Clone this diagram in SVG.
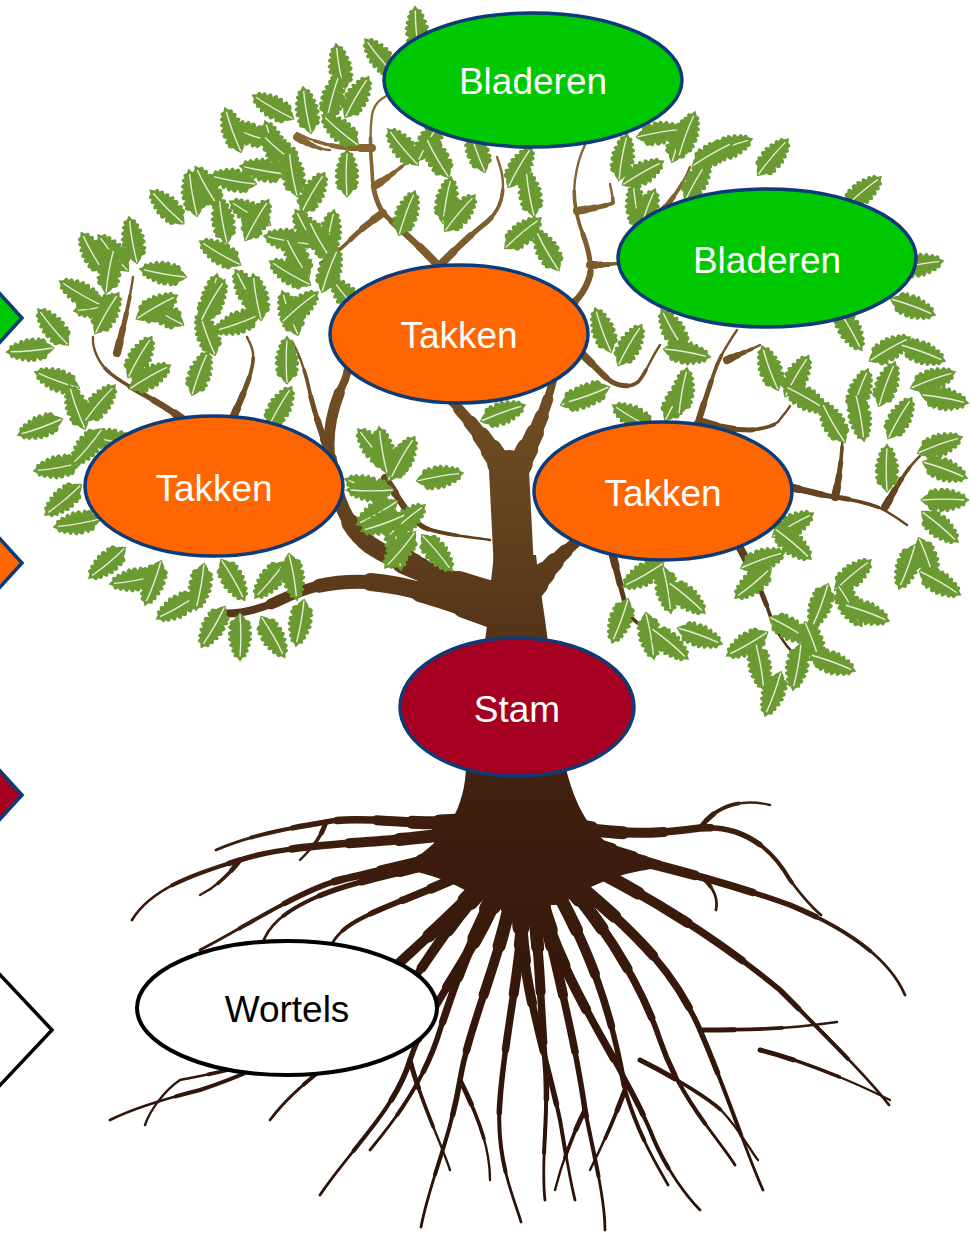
<svg xmlns="http://www.w3.org/2000/svg" width="971" height="1233" viewBox="0 0 971 1233">
<style>
.w{fill:none;stroke:url(#wood);stroke-linecap:round;stroke-linejoin:round}
.node ellipse{stroke:#0d3b78;stroke-width:3.5}
.lbl{font-family:"Liberation Sans",Arial,sans-serif;font-size:37px;fill:#ffffff;text-anchor:middle}
.dia{stroke:#0d3b78;stroke-width:3.5}
</style>
<defs>
<linearGradient id="wood" gradientUnits="userSpaceOnUse" x1="0" y1="100" x2="0" y2="1230">
<stop offset="0" stop-color="#8a6a35"/>
<stop offset="0.3" stop-color="#6b4a22"/>
<stop offset="0.45" stop-color="#58381a"/>
<stop offset="0.62" stop-color="#3f1f0e"/>
<stop offset="1" stop-color="#2a1007"/>
</linearGradient>
<g id="lf">
<g transform="scale(1.08,1.4)">
<path d="M-23,0 C-20,-2 -18,-4 -16,-4 Q-15,-9 -11,-7 Q-9,-10.5 -6,-6 Q-4,-11 0,-7 Q2,-11 5,-6 Q8,-10 10,-5 Q14,-8 15,-4 Q19,-6 19,-2 L23,0 L19,2 Q19,6 15,4 Q14,8 10,5 Q8,10 5,6 Q2,11 0,7 Q-4,11 -6,6 Q-9,10.5 -11,7 Q-15,9 -16,4 C-18,4 -20,2 -23,0 Z" fill="#6b9a33"/>
<path d="M-21,0 Q0,-1.2 18,0" fill="none" stroke="#e4eed4" stroke-width="1"/>
</g>
</g>
<path id="r1" pathLength="100" d="M470,830 C400,845 300,840 240,860 C190,875 150,890 132,920"/>
<path id="r2" pathLength="100" d="M462,822 C410,826 365,815 326,822 C290,828 250,835 216,850"/>
<path id="r3" pathLength="100" d="M480,850 C420,870 350,880 310,900 C285,912 268,925 262,945"/>
<path id="r4" pathLength="100" d="M490,860 C440,890 380,905 350,925 C335,935 330,945 328,955"/>
<path id="r5" pathLength="100" d="M495,870 C450,920 400,960 360,1000 C320,1040 260,1070 200,1090 C160,1100 130,1110 110,1120"/>
<path id="r6" pathLength="100" d="M505,875 C480,950 430,1000 410,1060 C395,1110 350,1150 320,1195"/>
<path id="r7" pathLength="100" d="M515,875 C505,950 470,1020 460,1080 C450,1140 430,1180 421,1227"/>
<path id="r8" pathLength="100" d="M525,875 C525,950 505,1030 500,1100 C495,1160 515,1200 521,1222"/>
<path id="r9" pathLength="100" d="M535,875 C555,960 575,1040 585,1110 C595,1160 605,1200 605,1230"/>
<path id="r10" pathLength="100" d="M545,870 C585,940 610,1000 625,1090 C640,1140 660,1170 668,1185"/>
<path id="r11" pathLength="100" d="M555,865 C620,920 670,960 700,1030 C730,1100 745,1150 763,1190"/>
<path id="r12" pathLength="100" d="M565,855 C640,890 720,940 780,990 C830,1040 870,1080 889,1105"/>
<path id="r13" pathLength="100" d="M570,845 C640,860 720,880 790,905 C850,930 890,960 905,995"/>
<path id="r14" pathLength="100" d="M565,825 C610,835 650,835 700,828 C740,825 770,845 790,880 C805,900 815,910 821,915"/>
<path id="r15" pathLength="100" d="M580,840 C630,855 680,870 705,880 C715,890 718,900 716,910"/>
<path id="r16" pathLength="100" d="M520,900 C520,980 545,1050 560,1120 C565,1150 570,1180 575,1200"/>
<path id="r17" pathLength="100" d="M540,900 C560,980 620,1060 650,1130 C665,1170 690,1200 700,1210"/>
<path id="r18" pathLength="100" d="M490,880 C440,930 420,980 380,1020 C340,1060 300,1080 270,1120"/>
<path id="r19" pathLength="100" d="M480,845 C430,860 380,870 340,880 C300,890 240,930 200,950"/>
<path id="r20" pathLength="100" d="M500,885 C470,940 455,985 440,1030 C425,1080 395,1120 370,1150"/>
<path id="r21" pathLength="100" d="M530,885 C540,940 540,1000 545,1060 C550,1110 540,1160 545,1200"/>
<path id="r22" pathLength="100" d="M560,875 C600,920 640,980 660,1040 C680,1100 720,1140 735,1165"/>
<path id="s1" pathLength="100" d="M700,1030 C740,1030 780,1030 837,1022"/>
<path id="s2" pathLength="100" d="M760,1050 C800,1060 850,1080 890,1100"/>
<path id="s3" pathLength="100" d="M640,1060 C680,1080 710,1100 721,1110 C740,1130 750,1150 758,1160"/>
<path id="s4" pathLength="100" d="M330,1030 C290,1060 230,1070 180,1080 C165,1090 150,1110 145,1125"/>
<path id="s5" pathLength="100" d="M410,1060 C420,1100 440,1140 450,1170"/>
<path id="s6" pathLength="100" d="M460,1080 C480,1120 490,1150 490,1180"/>
<path id="s7" pathLength="100" d="M585,1110 C570,1140 560,1170 555,1190"/>
<path id="s8" pathLength="100" d="M625,1090 C610,1130 600,1150 590,1170"/>
<path id="s9" pathLength="100" d="M240,860 C225,880 210,890 200,895"/>
<path id="s10" pathLength="100" d="M326,822 C320,840 310,850 300,860"/>
<path id="s11" pathLength="100" d="M700,828 C720,800 750,800 770,805"/>
<path id="b1" pathLength="100" d="M495,595 C450,582 400,565 370,545 C345,525 335,495 330,460 C326,430 335,400 345,380 C352,360 350,340 345,320"/>
<path id="b2" pathLength="100" d="M492,615 C450,600 410,585 370,582 C330,580 305,588 280,600 C255,612 235,615 215,613"/>
<path id="b3l" pathLength="100" d="M505,472 C490,445 470,420 445,395"/>
<path id="b4" pathLength="100" d="M515,472 C530,445 545,415 553,380"/>
<path id="b5" pathLength="100" d="M530,590 C550,565 568,548 590,530"/>
<path id="m1" pathLength="100" d="M385,478 C400,500 410,520 425,528 C445,535 470,537 490,540"/>
<path id="m2" pathLength="100" d="M405,552 C420,558 430,565 445,570"/>
<path id="m3" pathLength="100" d="M330,455 C320,430 312,405 307,380 C303,365 298,352 293,343"/>
<path id="m4" pathLength="100" d="M190,425 C160,400 130,390 110,373 C100,365 92,350 93,337"/>
<path id="m5" pathLength="100" d="M117,353 C125,320 130,300 133,277"/>
<path id="m6" pathLength="100" d="M232,420 C245,390 255,368 253,353 C252,345 248,340 247,337"/>
<path id="u1" pathLength="100" d="M440,268 C420,245 400,230 383,213 C375,200 372,185 372,170 C370,150 370,130 372,115 C374,105 378,100 390,94"/>
<path id="u2" pathLength="100" d="M372,148 C360,148 350,148 340,147 C325,145 310,140 297,133"/>
<path id="u3" pathLength="100" d="M383,213 C370,222 360,230 350,240 C340,250 330,258 320,263"/>
<path id="u4" pathLength="100" d="M440,265 C455,250 470,235 487,222 C498,212 503,200 503,185 C503,175 500,165 497,157"/>
<path id="u5" pathLength="100" d="M376,185 C388,178 400,168 410,160"/>
<path id="u6" pathLength="100" d="M555,320 C572,305 585,295 590,275 C593,260 585,240 580,226 C575,210 573,196 575,180 C577,165 580,155 585,145"/>
<path id="u7" pathLength="100" d="M577,211 C595,208 605,206 613,203 C613,195 611,190 610,184"/>
<path id="u8" pathLength="100" d="M590,265 C600,265 610,265 625,262"/>
<path id="u9" pathLength="100" d="M650,225 C668,205 682,188 690,167"/>
<path id="u10" pathLength="100" d="M297,137 C310,145 320,150 330,150"/>
<path id="rr1" pathLength="100" d="M580,352 C597,368 605,378 612,382 C620,386 630,388 638,382 C645,375 650,360 660,345"/>
<path id="rr2" pathLength="100" d="M693,440 C700,415 705,400 713,376 C718,360 725,348 737,330"/>
<path id="rr3" pathLength="100" d="M727,360 C738,355 750,350 760,345"/>
<path id="rr4" pathLength="100" d="M703,422 C720,428 735,430 750,430 C760,429 770,428 778,422 C783,415 788,410 790,406"/>
<path id="rr5" pathLength="100" d="M780,485 C805,490 820,495 835,497 C855,500 870,504 880,508 C890,513 900,520 907,525"/>
<path id="rr6" pathLength="100" d="M835,497 C840,475 842,455 843,430"/>
<path id="rr7" pathLength="100" d="M885,507 C895,490 905,470 920,456"/>
<path id="rr8" pathLength="100" d="M740,548 C755,575 765,600 770,615 C775,630 785,645 795,655"/>
<path id="rr9" pathLength="100" d="M612,552 C618,575 622,595 628,612 C635,625 648,630 662,630"/>
<g id="RA">
<use href="#r1"/><use href="#r2"/><use href="#r3"/><use href="#r4"/><use href="#r5"/><use href="#r6"/><use href="#r7"/><use href="#r8"/><use href="#r9"/><use href="#r10"/><use href="#r11"/><use href="#r12"/><use href="#r13"/><use href="#r14"/><use href="#r15"/><use href="#r16"/><use href="#r17"/><use href="#r18"/><use href="#r19"/><use href="#r20"/><use href="#r21"/><use href="#r22"/>
</g>
<g id="SA">
<use href="#s1"/><use href="#s2"/><use href="#s3"/><use href="#s4"/><use href="#s5"/><use href="#s6"/><use href="#s7"/><use href="#s8"/><use href="#s9"/><use href="#s10"/><use href="#s11"/>
</g>
<g id="MA">
<use href="#m1"/><use href="#m2"/><use href="#m3"/><use href="#m4"/><use href="#m5"/><use href="#m6"/>
<use href="#u1"/><use href="#u2"/><use href="#u3"/><use href="#u4"/><use href="#u5"/><use href="#u6"/><use href="#u7"/><use href="#u8"/><use href="#u9"/><use href="#u10"/>
<use href="#rr1"/><use href="#rr2"/><use href="#rr3"/><use href="#rr4"/><use href="#rr5"/><use href="#rr6"/><use href="#rr7"/><use href="#rr8"/><use href="#rr9"/>
</g>
<g id="BA">
<use href="#b1"/><use href="#b2"/><use href="#b3l"/><use href="#b4"/><use href="#b5"/>
</g>
</defs>
<rect x="0" y="0" width="971" height="1233" fill="#ffffff"/>

<g id="tree">
<g id="roots">
<use href="#SA" class="w" stroke-width="2.4"/>
<use href="#SA" class="w" stroke-width="3.6" stroke-dasharray="60 200"/>
<use href="#SA" class="w" stroke-width="5" stroke-dasharray="25 200"/>
<use href="#RA" class="w" stroke-width="2.8"/>
<use href="#RA" class="w" stroke-width="4" stroke-dasharray="85 200"/>
<use href="#RA" class="w" stroke-width="5.5" stroke-dasharray="68 200"/>
<use href="#RA" class="w" stroke-width="7.5" stroke-dasharray="50 200"/>
<use href="#RA" class="w" stroke-width="10" stroke-dasharray="34 200"/>
<use href="#RA" class="w" stroke-width="13" stroke-dasharray="20 200"/>
<use href="#RA" class="w" stroke-width="17" stroke-dasharray="9 200"/>
</g>

<g id="branches">
<use href="#MA" class="w" stroke-width="2.4"/>
<use href="#MA" class="w" stroke-width="3.6" stroke-dasharray="75 200"/>
<use href="#MA" class="w" stroke-width="5" stroke-dasharray="52 200"/>
<use href="#MA" class="w" stroke-width="6.5" stroke-dasharray="32 200"/>
<use href="#MA" class="w" stroke-width="8" stroke-dasharray="14 200"/>
<use href="#BA" class="w" stroke-width="8"/>
<use href="#BA" class="w" stroke-width="11" stroke-dasharray="80 200"/>
<use href="#BA" class="w" stroke-width="14" stroke-dasharray="62 200"/>
<use href="#BA" class="w" stroke-width="18" stroke-dasharray="44 200"/>
<use href="#BA" class="w" stroke-width="22" stroke-dasharray="26 200"/>
<use href="#BA" class="w" stroke-width="26" stroke-dasharray="10 200"/>
<path d="M515,590 C513,545 511,505 509,470" class="w" stroke-width="40" stroke-linecap="butt"/>
<path d="M395,868 C435,852 460,820 465,780 C470,725 482,670 487,625 C489,600 491,580 494,555 L536,555 C540,590 546,620 550,660 C556,720 562,775 582,812 C598,842 625,860 660,868 C620,872 590,885 560,905 L490,905 C460,885 430,872 395,868 Z" fill="url(#wood)"/>
</g>

<g id="leaves">
<use href="#lf" transform="translate(417,30) rotate(-95)"/>
<use href="#lf" transform="translate(380,57) rotate(-130)"/>
<use href="#lf" transform="translate(340,67) rotate(-100)"/>
<use href="#lf" transform="translate(273,107) rotate(-150)"/>
<use href="#lf" transform="translate(307,110) rotate(-100)"/>
<use href="#lf" transform="translate(333,97) rotate(-75)"/>
<use href="#lf" transform="translate(340,130) rotate(-140)"/>
<use href="#lf" transform="translate(247,133) rotate(-160)"/>
<use href="#lf" transform="translate(273,143) rotate(-110)"/>
<use href="#lf" transform="translate(263,170) rotate(-170)"/>
<use href="#lf" transform="translate(313,193) rotate(-60)"/>
<use href="#lf" transform="translate(347,173) rotate(-90)"/>
<use href="#lf" transform="translate(250,213) rotate(-150)"/>
<use href="#lf" transform="translate(307,230) rotate(-120)"/>
<use href="#lf" transform="translate(330,233) rotate(-80)"/>
<use href="#lf" transform="translate(403,147) rotate(-130)"/>
<use href="#lf" transform="translate(407,213) rotate(-70)"/>
<use href="#lf" transform="translate(430,140) rotate(-60)"/>
<use href="#lf" transform="translate(437,157) rotate(-120)"/>
<use href="#lf" transform="translate(447,200) rotate(-80)"/>
<use href="#lf" transform="translate(460,213) rotate(-50)"/>
<use href="#lf" transform="translate(477,150) rotate(-110)"/>
<use href="#lf" transform="translate(520,167) rotate(-60)"/>
<use href="#lf" transform="translate(530,193) rotate(-100)"/>
<use href="#lf" transform="translate(523,233) rotate(-40)"/>
<use href="#lf" transform="translate(547,250) rotate(-120)"/>
<use href="#lf" transform="translate(623,157) rotate(-80)"/>
<use href="#lf" transform="translate(643,173) rotate(-30)"/>
<use href="#lf" transform="translate(680,140) rotate(-70)"/>
<use href="#lf" transform="translate(730,147) rotate(-20)"/>
<use href="#lf" transform="translate(697,180) rotate(-60)"/>
<use href="#lf" transform="translate(637,207) rotate(-100)"/>
<use href="#lf" transform="translate(660,133) rotate(-10)"/>
<use href="#lf" transform="translate(233,130) rotate(-110)"/>
<use href="#lf" transform="translate(357,97) rotate(-60)"/>
<use href="#lf" transform="translate(280,150) rotate(-140)"/>
<use href="#lf" transform="translate(293,173) rotate(-100)"/>
<use href="#lf" transform="translate(233,180) rotate(-170)"/>
<use href="#lf" transform="translate(207,187) rotate(-120)"/>
<use href="#lf" transform="translate(167,207) rotate(-135)"/>
<use href="#lf" transform="translate(223,220) rotate(-100)"/>
<use href="#lf" transform="translate(257,220) rotate(-60)"/>
<use href="#lf" transform="translate(287,240) rotate(-170)"/>
<use href="#lf" transform="translate(297,257) rotate(-120)"/>
<use href="#lf" transform="translate(220,253) rotate(-150)"/>
<use href="#lf" transform="translate(113,253) rotate(-130)"/>
<use href="#lf" transform="translate(133,240) rotate(-100)"/>
<use href="#lf" transform="translate(163,273) rotate(-170)"/>
<use href="#lf" transform="translate(163,313) rotate(-150)"/>
<use href="#lf" transform="translate(97,307) rotate(170)"/>
<use href="#lf" transform="translate(247,290) rotate(-120)"/>
<use href="#lf" transform="translate(213,297) rotate(-80)"/>
<use href="#lf" transform="translate(237,323) rotate(160)"/>
<use href="#lf" transform="translate(290,313) rotate(-110)"/>
<use href="#lf" transform="translate(347,297) rotate(-130)"/>
<use href="#lf" transform="translate(193,193) rotate(-100)"/>
<use href="#lf" transform="translate(93,253) rotate(-120)"/>
<use href="#lf" transform="translate(110,270) rotate(-80)"/>
<use href="#lf" transform="translate(157,307) rotate(-30)"/>
<use href="#lf" transform="translate(80,293) rotate(-150)"/>
<use href="#lf" transform="translate(107,313) rotate(-60)"/>
<use href="#lf" transform="translate(53,327) rotate(-130)"/>
<use href="#lf" transform="translate(30,350) rotate(175)"/>
<use href="#lf" transform="translate(57,380) rotate(-160)"/>
<use href="#lf" transform="translate(40,427) rotate(160)"/>
<use href="#lf" transform="translate(77,407) rotate(-110)"/>
<use href="#lf" transform="translate(100,403) rotate(-50)"/>
<use href="#lf" transform="translate(57,467) rotate(170)"/>
<use href="#lf" transform="translate(63,500) rotate(140)"/>
<use href="#lf" transform="translate(77,523) rotate(170)"/>
<use href="#lf" transform="translate(110,440) rotate(-170)"/>
<use href="#lf" transform="translate(87,447) rotate(130)"/>
<use href="#lf" transform="translate(140,357) rotate(-60)"/>
<use href="#lf" transform="translate(150,377) rotate(-30)"/>
<use href="#lf" transform="translate(200,373) rotate(-70)"/>
<use href="#lf" transform="translate(207,333) rotate(-110)"/>
<use href="#lf" transform="translate(213,300) rotate(-60)"/>
<use href="#lf" transform="translate(257,297) rotate(-100)"/>
<use href="#lf" transform="translate(290,273) rotate(-150)"/>
<use href="#lf" transform="translate(320,240) rotate(-120)"/>
<use href="#lf" transform="translate(330,270) rotate(-70)"/>
<use href="#lf" transform="translate(300,307) rotate(-40)"/>
<use href="#lf" transform="translate(287,360) rotate(-90)"/>
<use href="#lf" transform="translate(280,407) rotate(-60)"/>
<use href="#lf" transform="translate(107,563) rotate(140)"/>
<use href="#lf" transform="translate(133,580) rotate(170)"/>
<use href="#lf" transform="translate(153,583) rotate(110)"/>
<use href="#lf" transform="translate(177,607) rotate(150)"/>
<use href="#lf" transform="translate(200,587) rotate(100)"/>
<use href="#lf" transform="translate(233,580) rotate(60)"/>
<use href="#lf" transform="translate(270,580) rotate(130)"/>
<use href="#lf" transform="translate(293,577) rotate(80)"/>
<use href="#lf" transform="translate(213,627) rotate(120)"/>
<use href="#lf" transform="translate(240,637) rotate(90)"/>
<use href="#lf" transform="translate(273,637) rotate(60)"/>
<use href="#lf" transform="translate(300,623) rotate(100)"/>
<use href="#lf" transform="translate(373,447) rotate(-130)"/>
<use href="#lf" transform="translate(400,460) rotate(-60)"/>
<use href="#lf" transform="translate(367,487) rotate(-160)"/>
<use href="#lf" transform="translate(377,513) rotate(150)"/>
<use href="#lf" transform="translate(397,547) rotate(80)"/>
<use href="#lf" transform="translate(407,520) rotate(-40)"/>
<use href="#lf" transform="translate(503,413) rotate(-20)"/>
<use href="#lf" transform="translate(583,397) rotate(-20)"/>
<use href="#lf" transform="translate(383,450) rotate(-100)"/>
<use href="#lf" transform="translate(403,457) rotate(-60)"/>
<use href="#lf" transform="translate(440,477) rotate(-10)"/>
<use href="#lf" transform="translate(370,490) rotate(180)"/>
<use href="#lf" transform="translate(383,523) rotate(160)"/>
<use href="#lf" transform="translate(400,550) rotate(130)"/>
<use href="#lf" transform="translate(437,553) rotate(50)"/>
<use href="#lf" transform="translate(677,400) rotate(-60)"/>
<use href="#lf" transform="translate(633,417) rotate(-150)"/>
<use href="#lf" transform="translate(687,134) rotate(-70)"/>
<use href="#lf" transform="translate(713,154) rotate(-30)"/>
<use href="#lf" transform="translate(773,157) rotate(-50)"/>
<use href="#lf" transform="translate(647,211) rotate(-70)"/>
<use href="#lf" transform="translate(863,192) rotate(-40)"/>
<use href="#lf" transform="translate(920,265) rotate(-10)"/>
<use href="#lf" transform="translate(913,307) rotate(20)"/>
<use href="#lf" transform="translate(850,330) rotate(60)"/>
<use href="#lf" transform="translate(890,349) rotate(-30)"/>
<use href="#lf" transform="translate(923,353) rotate(20)"/>
<use href="#lf" transform="translate(933,380) rotate(-20)"/>
<use href="#lf" transform="translate(887,384) rotate(-70)"/>
<use href="#lf" transform="translate(603,330) rotate(-110)"/>
<use href="#lf" transform="translate(630,345) rotate(-60)"/>
<use href="#lf" transform="translate(673,330) rotate(-120)"/>
<use href="#lf" transform="translate(687,353) rotate(10)"/>
<use href="#lf" transform="translate(683,391) rotate(-80)"/>
<use href="#lf" transform="translate(587,395) rotate(160)"/>
<use href="#lf" transform="translate(770,368) rotate(-110)"/>
<use href="#lf" transform="translate(797,376) rotate(-60)"/>
<use href="#lf" transform="translate(807,399) rotate(30)"/>
<use href="#lf" transform="translate(860,391) rotate(-70)"/>
<use href="#lf" transform="translate(833,422) rotate(-120)"/>
<use href="#lf" transform="translate(860,418) rotate(80)"/>
<use href="#lf" transform="translate(900,418) rotate(-60)"/>
<use href="#lf" transform="translate(945,399) rotate(10)"/>
<use href="#lf" transform="translate(940,445) rotate(-20)"/>
<use href="#lf" transform="translate(945,470) rotate(20)"/>
<use href="#lf" transform="translate(945,500) rotate(0)"/>
<use href="#lf" transform="translate(887,468) rotate(-90)"/>
<use href="#lf" transform="translate(940,527) rotate(40)"/>
<use href="#lf" transform="translate(927,560) rotate(70)"/>
<use href="#lf" transform="translate(907,567) rotate(110)"/>
<use href="#lf" transform="translate(940,583) rotate(30)"/>
<use href="#lf" transform="translate(793,525) rotate(-30)"/>
<use href="#lf" transform="translate(793,544) rotate(40)"/>
<use href="#lf" transform="translate(853,575) rotate(-40)"/>
<use href="#lf" transform="translate(850,606) rotate(60)"/>
<use href="#lf" transform="translate(820,606) rotate(110)"/>
<use href="#lf" transform="translate(867,613) rotate(20)"/>
<use href="#lf" transform="translate(753,583) rotate(140)"/>
<use href="#lf" transform="translate(763,560) rotate(-20)"/>
<use href="#lf" transform="translate(790,629) rotate(30)"/>
<use href="#lf" transform="translate(813,644) rotate(70)"/>
<use href="#lf" transform="translate(833,663) rotate(20)"/>
<use href="#lf" transform="translate(797,667) rotate(100)"/>
<use href="#lf" transform="translate(747,644) rotate(150)"/>
<use href="#lf" transform="translate(760,667) rotate(80)"/>
<use href="#lf" transform="translate(773,694) rotate(110)"/>
<use href="#lf" transform="translate(643,575) rotate(150)"/>
<use href="#lf" transform="translate(667,590) rotate(80)"/>
<use href="#lf" transform="translate(687,598) rotate(40)"/>
<use href="#lf" transform="translate(620,621) rotate(110)"/>
<use href="#lf" transform="translate(650,636) rotate(80)"/>
<use href="#lf" transform="translate(670,644) rotate(40)"/>
<use href="#lf" transform="translate(700,636) rotate(20)"/>
</g>
</g>

<g id="markers">
<polygon class="dia" points="-60,228 22,318 -60,408" fill="#00c800"/>
<polygon class="dia" points="-60,473 22,563 -60,653" fill="#ff6600"/>
<polygon class="dia" points="-60,705 22,795 -60,885" fill="#a50021"/>
<polygon points="-60,911 52,1030 -60,1149" fill="#ffffff" stroke="#000000" stroke-width="3.5"/>
</g>

<g id="node-bladeren-1" class="node">
<ellipse cx="533" cy="80" rx="149" ry="67" fill="#00c800"/>
<text class="lbl" x="533" y="94">Bladeren</text>
</g>
<g id="node-bladeren-2" class="node">
<ellipse cx="767" cy="258" rx="149" ry="69" fill="#00c800"/>
<text class="lbl" x="767" y="273">Bladeren</text>
</g>
<g id="node-takken-1" class="node">
<ellipse cx="459" cy="334" rx="129" ry="69" fill="#ff6600"/>
<text class="lbl" x="459" y="348">Takken</text>
</g>
<g id="node-takken-2" class="node">
<ellipse cx="214" cy="486" rx="129" ry="70" fill="#ff6600"/>
<text class="lbl" x="214" y="501">Takken</text>
</g>
<g id="node-takken-3" class="node">
<ellipse cx="663" cy="491" rx="129" ry="69" fill="#ff6600"/>
<text class="lbl" x="663" y="506">Takken</text>
</g>
<g id="node-stam" class="node">
<ellipse cx="517" cy="707" rx="117" ry="69" fill="#a50021"/>
<text class="lbl" x="517" y="722">Stam</text>
</g>
<g id="node-wortels">
<ellipse cx="287" cy="1008" rx="150" ry="67" fill="#ffffff" stroke="#000000" stroke-width="4"/>
<text class="lbl" x="287" y="1022" style="fill:#000000">Wortels</text>
</g>
</svg>
